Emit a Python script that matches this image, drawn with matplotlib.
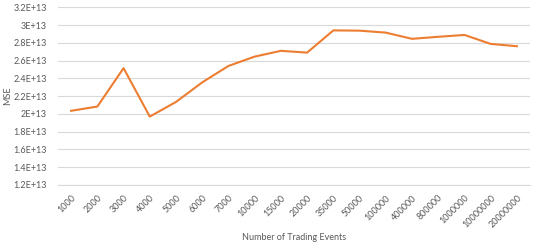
import matplotlib
matplotlib.use("Agg")
import matplotlib.pyplot as plt
from matplotlib.ticker import FuncFormatter, MultipleLocator

categories = ["1000", "2000", "3000", "4000", "5000", "6000", "7000", "10000", "15000",
              "20000", "35000", "50000", "100000", "400000", "800000", "1000000",
              "10000000", "20000000"]
mse = [2.035e13, 2.083e13, 2.515e13, 1.97e13, 2.135e13, 2.355e13, 2.54e13, 2.645e13, 2.71e13,
       2.69e13, 2.94e13, 2.937e13, 2.915e13, 2.845e13, 2.868e13, 2.889e13, 2.788e13, 2.762e13]

plt.rcParams['font.family'] = ['Lato', 'DejaVu Sans']
text_color = "#595959"
grid_color = "#D9D9D9"

fig = plt.figure(figsize=(5.4, 2.47), dpi=100)
ax = fig.add_axes([58/540, 1-185/247, (530-58)/540, (185-7.3)/247])

x = list(range(len(categories)))
ax.plot(x, mse, color="#ED7D31", linewidth=1.5, solid_joinstyle="round")

ax.set_xlim(-0.5, len(categories) - 0.5)
ax.set_ylim(1.2e13, 3.2e13)
ax.yaxis.set_major_locator(MultipleLocator(0.2e13))

def fmt(v, pos):
    m = v / 1e13
    s = f"{m:.1f}".rstrip("0").rstrip(".")
    return f"{s}E+13"

ax.yaxis.set_major_formatter(FuncFormatter(fmt))
ax.set_xticks(x)
ax.set_xticklabels(categories, rotation=45, ha="right", va="top", rotation_mode="anchor")

ax.grid(axis="y", color=grid_color, linewidth=0.8)
ax.set_axisbelow(True)
for s in ["top", "right", "left"]:
    ax.spines[s].set_visible(False)
ax.spines["bottom"].set_color(grid_color)
ax.spines["bottom"].set_linewidth(0.8)
ax.tick_params(axis="both", length=0, colors=text_color, labelsize=6.5)
ax.tick_params(axis="x", pad=6)
ax.tick_params(axis="y", pad=8)

fig.text(7.5/540, 1-96/247, "MSE", color=text_color, fontsize=6.5,
         rotation=90, ha="center", va="center")
fig.text(294/540, 1-237.5/247, "Number of Trading Events", color=text_color,
         fontsize=6.5, ha="center", va="center")

fig.savefig("out.png", dpi=100)
